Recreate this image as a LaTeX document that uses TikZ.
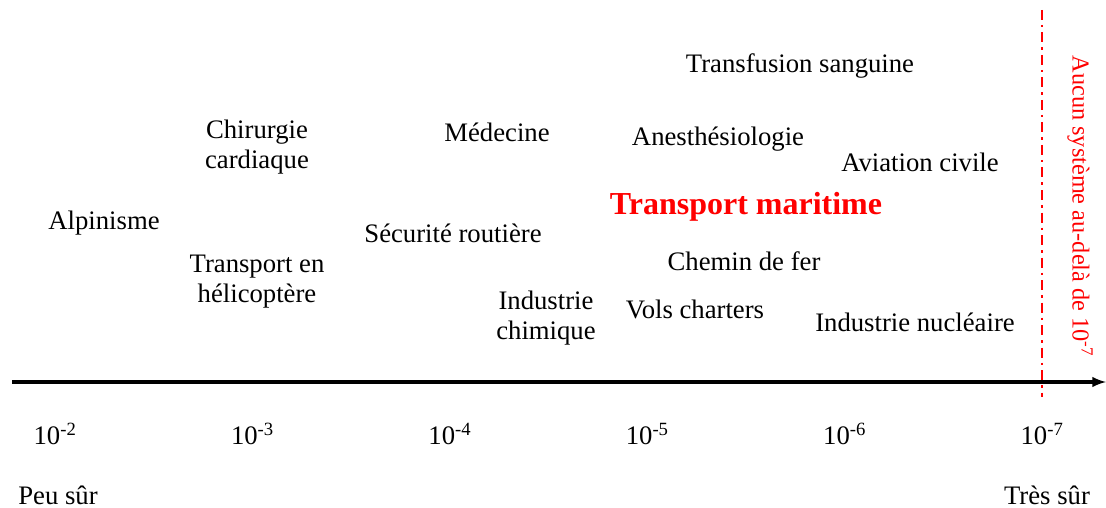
\documentclass[tikz,border=0pt]{standalone}
\usepackage{fontspec}
\setmainfont{Liberation Serif}
\usetikzlibrary{arrows}

\begin{document}
\begin{tikzpicture}[
x=1pt,y=-1pt,
activity/.style={
  font=\fontsize{26.7}{30}\selectfont,
  align=center,
  inner sep=0pt
  },
focus/.style={
  font=\fontsize{32}{36}\selectfont\bfseries,
  text=red,
  inner sep=0pt
  },
limit/.style={
  draw=red,
  line width=2.4pt,
  dash pattern=on 10pt off 5pt on 2.5pt off 5pt
  },
axis/.style={
  draw,
  line width=3.6pt,
  ->,
  >=latex
  }
]
\useasboundingbox (0,0) rectangle (1106,508);

% activity domains
\node[activity] (transfusion) at (800,66) {Transfusion sanguine};
\node[activity] (chirurgie) at (257,147) {Chirurgie\\cardiaque};
\node[activity] (medecine) at (497,132) {Médecine};
\node[activity] (anesthesie) at (718,139) {Anesthésiologie};
\node[activity] (aviation) at (920,162) {Aviation civile};
\node[focus] (maritime) at (746,207) {Transport maritime};
\node[activity] (alpinisme) at (104,223) {Alpinisme};
\node[activity] (routiere) at (453,233) {Sécurité routière};
\node[activity] (helico) at (257,282) {Transport en\\hélicoptère};
\node[activity] (fer) at (744,261) {Chemin de fer};
\node[activity] (chimique) at (546,318) {Industrie\\chimique};
\node[activity] (charters) at (695,309) {Vols charters};
\node[activity] (nucleaire) at (915,322) {Industrie nucléaire};

% axis and scale
\coordinate (axisstart) at (12,382);
\coordinate (axisend) at (1106,382);
\draw[axis] (axisstart) -- (axisend);
\foreach \ex [count=\ti] in {2,...,7}
  \node[activity] (tick\ti) at ({55+197.4*(\ti-1)},434) {10\textsuperscript{-\ex}};
\node[activity] (peusur) at (58,495) {Peu sûr};
\node[activity] (tressur) at (1047,495) {Très sûr};

% limit
\coordinate (limtop) at (1042,10);
\coordinate (limbot) at (1042,397);
\draw[limit] (limtop) -- (limbot);
\node[activity,font=\fontsize{24.3}{28}\selectfont,text=red,rotate=-90] (aucun) at (1080,206) {Aucun système au-delà de 10\textsuperscript{-7}};
\end{tikzpicture}
\end{document}
